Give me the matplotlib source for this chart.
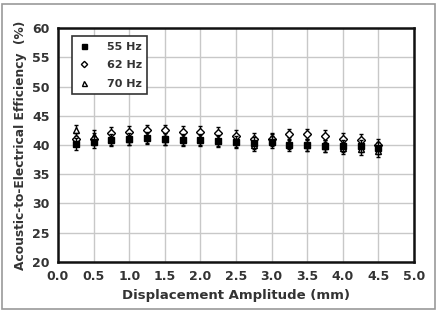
import matplotlib
matplotlib.use("Agg")
import matplotlib.pyplot as plt
from matplotlib.lines import Line2D
from matplotlib.patches import Rectangle

# displacement amplitude (mm)
amp = [0.25, 0.5, 0.75, 1.0, 1.25, 1.5, 1.75, 2.0, 2.25, 2.5,
       2.75, 3.0, 3.25, 3.5, 3.75, 4.0, 4.25, 4.5]
eff_55 = [40.2, 40.5, 40.8, 41.0, 41.2, 41.0, 40.8, 40.8, 40.7, 40.5,
          40.3, 40.5, 40.0, 40.0, 39.8, 39.8, 39.8, 39.5]
eff_62 = [41.0, 41.0, 42.0, 42.3, 42.5, 42.5, 42.3, 42.2, 42.0, 41.5,
          41.0, 41.0, 41.8, 41.8, 41.5, 41.0, 40.8, 40.0]
eff_70 = [42.5, 41.5, 41.0, 41.0, 41.3, 41.0, 41.0, 41.0, 40.8, 40.7,
          40.0, 40.8, 40.3, 40.0, 39.8, 39.5, 39.3, 39.0]
err = 1.0

fig = plt.figure(figsize=(4.41, 3.16), dpi=100)
ax = fig.add_axes([58 / 441, 1 - 262 / 316, 356 / 441, 234 / 316])

series = [
    (eff_70, "^", "white", 4.2, "70 Hz", 3),
    (eff_62, "D", "white", 3.8, "62 Hz", 4),
    (eff_55, "s", "black", 4.2, "55 Hz", 5),
]
handles = {}
for vals, mk, fc, ms, lbl, z in series:
    ax.errorbar(amp, vals, yerr=err, ecolor="black", elinewidth=1.0,
                capsize=1.5, capthick=1.0, linestyle="none", marker=mk,
                mfc=fc, mec="black", mew=1.0, markersize=ms, zorder=z)
    handles[lbl] = Line2D([], [], linestyle="none", marker=mk, mfc=fc,
                          mec="black", mew=1.0, markersize=ms - 0.6)

ax.set_xlim(0, 5)
ax.set_ylim(20, 60)
ax.set_xticks([i * 0.5 for i in range(11)])
ax.set_yticks(range(20, 61, 5))
ax.set_xticklabels([f"{i * 0.5:.1f}" for i in range(11)])
ax.grid(True, color="#c8c8c8", linewidth=1.0)
ax.set_axisbelow(True)
for s in ax.spines.values():
    s.set_linewidth(1.8)
    s.set_color("#111111")
ax.tick_params(length=0, labelsize=9, colors="#333333", pad=6)
for t in ax.get_xticklabels() + ax.get_yticklabels():
    t.set_fontweight("bold")

ax.set_xlabel("Displacement Amplitude (mm)", fontsize=9.5, fontweight="bold",
              color="#333333", labelpad=4)
ax.set_ylabel("Acoustic-to-Electrical Efficiency  (%)", fontsize=8.8,
              fontweight="bold", color="#333333", labelpad=4)

order = ["55 Hz", "62 Hz", "70 Hz"]
leg = ax.legend([handles[k] for k in order], order, loc="upper left",
                bbox_to_anchor=(0.04, 0.964),
                prop={"weight": "bold", "size": 8}, fancybox=False,
                framealpha=1, edgecolor="#333333", borderpad=0.5,
                labelspacing=0.75, handlelength=1.2, handletextpad=1.4,
                borderaxespad=0)
leg.get_frame().set_linewidth(1.2)
for t in leg.get_texts():
    t.set_color("#333333")

fig.patches.append(Rectangle((2 / 441, 1 - 309 / 316), 433 / 441, 305 / 316,
                             transform=fig.transFigure, fill=False,
                             edgecolor="#999999", linewidth=1.2))

fig.savefig("out.png", dpi=100)
